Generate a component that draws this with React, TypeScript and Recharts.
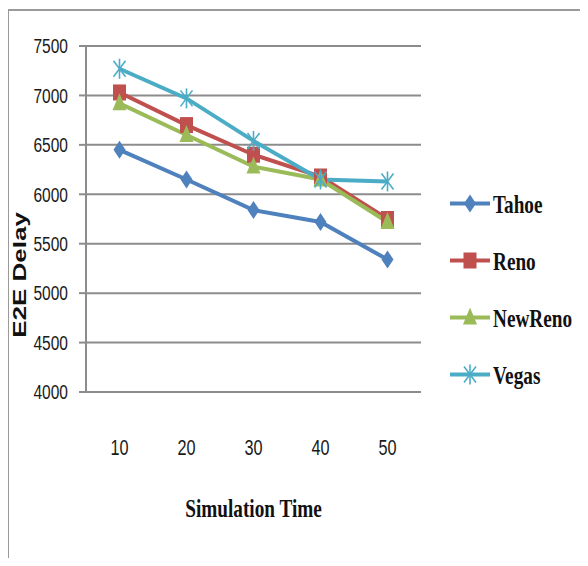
import { LineChart, Line, XAxis, YAxis, CartesianGrid, Legend, Label } from 'recharts'

const simTimes = ['10', '20', '30', '40', '50']
const tahoe = [6450, 6150, 5840, 5720, 5340]
const reno = [7030, 6700, 6400, 6180, 5750]
const newReno = [6920, 6600, 6280, 6150, 5720]
const vegas = [7270, 6970, 6540, 6150, 6130]
const delayTicks = [4000, 4500, 5000, 5500, 6000, 6500, 7000, 7500]

const data = simTimes.map((t, i) => ({
  time: t,
  Tahoe: tahoe[i],
  Reno: reno[i],
  NewReno: newReno[i],
  Vegas: vegas[i],
}))

type Shape = 'diamond' | 'square' | 'triangle' | 'star'

const series: { key: string; color: string; shape: Shape }[] = [
  { key: 'Tahoe', color: '#4F81BD', shape: 'diamond' },
  { key: 'Reno', color: '#C0504D', shape: 'square' },
  { key: 'NewReno', color: '#9BBB59', shape: 'triangle' },
  { key: 'Vegas', color: '#4BACC6', shape: 'star' },
]

// text is drawn narrow, squeezed horizontally
const SQ = 0.74
const GRID = '#8c8c8c'

function Marker({ cx, cy, shape, color }: { cx: number; cy: number; shape: Shape; color: string }) {
  switch (shape) {
    case 'diamond':
      return <path d={`M${cx},${cy - 9} L${cx + 6},${cy} L${cx},${cy + 9} L${cx - 6},${cy} Z`} fill={color} />
    case 'square':
      return <rect x={cx - 6.5} y={cy - 8} width={13} height={16} fill={color} />
    case 'triangle':
      return <path d={`M${cx},${cy - 10} L${cx + 7},${cy + 7} L${cx - 7},${cy + 7} Z`} fill={color} />
    default:
      return (
        <g stroke={color} strokeWidth={1.6}>
          <line x1={cx} y1={cy - 10} x2={cx} y2={cy + 10} />
          <line x1={cx - 6} y1={cy - 8} x2={cx + 6} y2={cy + 8} />
          <line x1={cx - 6} y1={cy + 8} x2={cx + 6} y2={cy - 8} />
        </g>
      )
  }
}

const YTick = ({ x, y, payload }: any) => (
  <g transform={`translate(${x},${y}) scale(${SQ},1)`}>
    <text x={0} y={0} dy="0.35em" textAnchor="end" fontSize={21} fill="#1a1a1a" fontFamily="'Liberation Sans', Arial, sans-serif">
      {payload.value}
    </text>
  </g>
)

const XTick = ({ x, y, payload }: any) => (
  <g transform={`translate(${x},${y + 55}) scale(${SQ},1)`}>
    <text x={0} y={0} dy="0.35em" textAnchor="middle" fontSize={22} fill="#1a1a1a" fontFamily="'Liberation Sans', Arial, sans-serif">
      {payload.value}
    </text>
  </g>
)

// legend keeps the series order (Tahoe, Reno, NewReno, Vegas)
const LegendBox = () => (
  <div>
    {series.map((s) => (
      <svg key={s.key} width={140} height={57} style={{ display: 'block' }}>
        <line x1={0} y1={28.5} x2={40} y2={28.5} stroke={s.color} strokeWidth={4} />
        <Marker cx={20} cy={28.5} shape={s.shape} color={s.color} />
        <g transform={`translate(43,28.5) scale(${SQ},1)`}>
          <text x={0} y={0} dy="0.35em" fontSize={26} fontWeight="bold" fill="#111" fontFamily="'Liberation Serif', 'Times New Roman', serif">
            {s.key}
          </text>
        </g>
      </svg>
    ))}
  </div>
)

export default function App() {
  return (
    <div style={{ position: 'relative', width: 588, height: 566, margin: -8, background: '#fff', overflow: 'hidden' }}>
      {/* outer chart frame, open on the right */}
      <div
        style={{
          position: 'absolute',
          left: 7,
          top: 9,
          width: 620,
          height: 555,
          border: `2px solid #9a9a9a`,
          boxSizing: 'border-box',
        }}
      />
      <div style={{ position: 'absolute', left: 0, top: 0 }}>
        <LineChart width={588} height={566} data={data} margin={{ top: 46, right: 167, left: 8, bottom: 114 }}>
          <CartesianGrid vertical={false} stroke={GRID} strokeWidth={2} />
          <XAxis
            dataKey="time"
            height={60}
            padding={{ left: 33.5, right: 33.5 }}
            axisLine={false}
            tickLine={false}
            tickSize={0}
            tickMargin={0}
            tick={<XTick />}
          >
            <Label
              content={({ viewBox }: any) => (
                <g transform={`translate(${viewBox.x + viewBox.width / 2},${viewBox.y + 116}) scale(${SQ},1)`}>
                  <text x={0} y={0} dy="0.35em" textAnchor="middle" fontSize={26} fontWeight="bold" fill="#111" fontFamily="'Liberation Serif', 'Times New Roman', serif">
                    Simulation Time
                  </text>
                </g>
              )}
            />
          </XAxis>
          <YAxis
            width={78}
            domain={[4000, 7500]}
            ticks={delayTicks}
            interval={0}
            axisLine={{ stroke: GRID, strokeWidth: 2 }}
            tickLine={{ stroke: GRID, strokeWidth: 2 }}
            tickSize={7}
            tickMargin={11}
            tick={<YTick />}
          >
            <Label
              content={({ viewBox }: any) => (
                <g transform={`translate(${viewBox.x + 11},${viewBox.y + 229}) scale(${SQ},1) rotate(-90)`}>
                  <text x={0} y={0} dy="0.35em" textAnchor="middle" fontSize={26} fontWeight="bold" fill="#111" fontFamily="'Liberation Sans', Arial, sans-serif">
                    E2E Delay
                  </text>
                </g>
              )}
            />
          </YAxis>
          <Legend
            layout="horizontal"
            verticalAlign="middle"
            align="center"
            content={<LegendBox />}
            wrapperStyle={{ position: 'absolute', left: 450, top: 175, width: 140, height: 228 }}
          />
          {series.map((s) => (
            <Line
              key={s.key}
              type="linear"
              dataKey={s.key}
              stroke={s.color}
              strokeWidth={4}
              isAnimationActive={false}
              dot={(p: any) => <Marker key={`${s.key}-${p.index}`} cx={p.cx} cy={p.cy} shape={s.shape} color={s.color} />}
              activeDot={false}
            />
          ))}
        </LineChart>
      </div>
    </div>
  )
}
